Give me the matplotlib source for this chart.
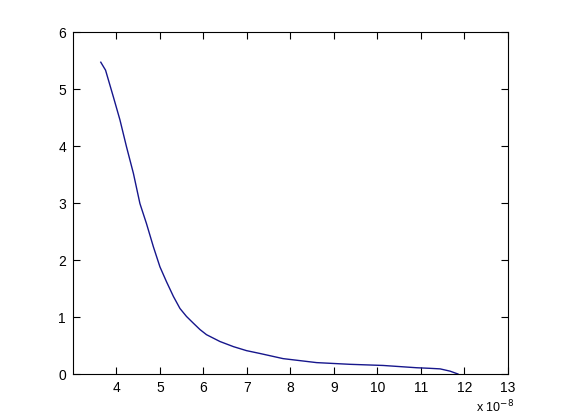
import matplotlib
matplotlib.use("Agg")
import matplotlib.pyplot as plt
from matplotlib.ticker import FuncFormatter, FixedLocator

# x values (in units of 1e-8) and y values
x_vals = [3.64, 3.75, 3.93, 4.08, 4.23, 4.39, 4.54, 4.69, 4.85, 5.00, 5.15, 5.31,
          5.46, 5.61, 5.77, 5.92, 6.07, 6.38, 6.69, 6.99, 7.30, 7.83, 8.60, 9.37,
          10.13, 10.90, 11.20, 11.44, 11.67, 11.85]
y_vals = [5.47, 5.33, 4.86, 4.46, 3.99, 3.52, 2.99, 2.64, 2.23, 1.88, 1.62, 1.36,
          1.15, 1.01, 0.89, 0.78, 0.69, 0.57, 0.48, 0.41, 0.36, 0.27, 0.20, 0.17,
          0.15, 0.11, 0.10, 0.09, 0.05, 0.0]
x_scale = 1e-8
x_data = [v * x_scale for v in x_vals]

x_ticks = [4, 5, 6, 7, 8, 9, 10, 11, 12, 13]
y_ticks = [0, 1, 2, 3, 4, 5, 6]

plt.rcParams['font.family'] = ['Liberation Sans', 'DejaVu Sans']

fig = plt.figure(figsize=(5.61, 4.20), dpi=100)
ax = fig.add_axes([0.130, 0.1095, 0.9055 - 0.130, 0.9238 - 0.1095])
ax.plot(x_data, y_vals, color='#16168c', linewidth=1.0)

ax.set_xlim(3 * x_scale, 13 * x_scale)
ax.set_ylim(0, 6)
ax.xaxis.set_major_locator(FixedLocator([t * x_scale for t in x_ticks]))
ax.xaxis.set_major_formatter(FuncFormatter(lambda v, p: f"{v / x_scale:g}"))
ax.set_yticks(y_ticks)
ax.tick_params(direction='in', length=5, width=0.8, top=True, right=True,
               labelsize=10, pad=5, colors='black')
for s in ax.spines.values():
    s.set_linewidth(0.8)

fig.text(0.848, 0.012, r'x 10$^{-8}$', fontsize=9, ha='left', va='bottom')

fig.savefig('out.png', dpi=100, facecolor='white')
